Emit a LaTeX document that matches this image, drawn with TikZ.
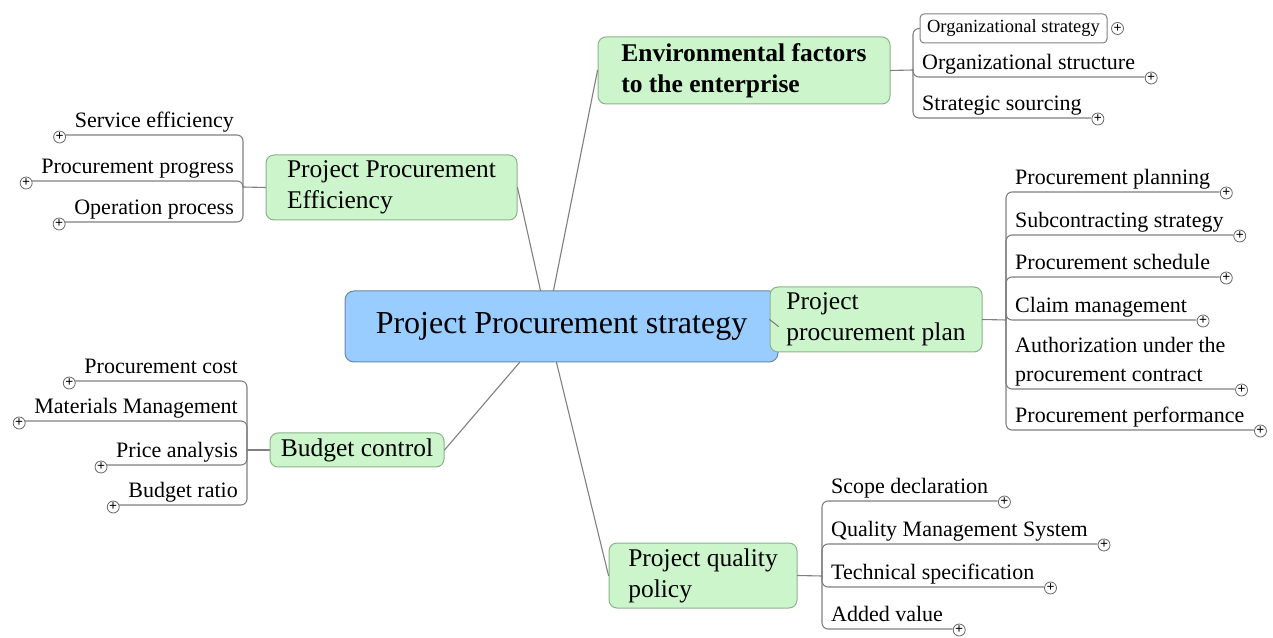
\documentclass[tikz,border=0pt]{standalone}
\usepackage{fontspec}
\setmainfont{Liberation Serif}
\usetikzlibrary{calc}
\definecolor{mintfill}{RGB}{204,245,204}
\definecolor{mintline}{RGB}{140,178,140}
\definecolor{skyfill}{RGB}{153,204,255}
\definecolor{skyline}{RGB}{105,135,170}
\definecolor{linkgray}{RGB}{128,128,128}
\begin{document}
\begin{tikzpicture}[x=1pt,y=1pt, line join=round, line cap=round,
	root/.style={draw=skyline, fill=skyfill, rounded corners=9pt, line width=1pt, minimum width=433pt, minimum height=71pt, font=\fontsize{32}{38}\selectfont},
	topic/.style={draw=mintline, fill=mintfill, rounded corners=8pt, line width=1pt, align=left, font=\fontsize{25.5}{31}\selectfont},
	leafR/.style={anchor=south west, inner xsep=9pt, inner ysep=2pt, text depth=5pt, align=left, font=\fontsize{22}{29}\selectfont},
	leafL/.style={anchor=south east, inner xsep=9pt, inner ysep=2pt, text depth=5pt, align=right, font=\fontsize{22}{29}\selectfont},
	osbox/.style={draw=linkgray, rounded corners=4pt, line width=1pt, minimum width=187pt, minimum height=29pt, inner sep=2pt, font=\fontsize{18.5}{22}\selectfont},
	plus/.style={circle, draw=linkgray!80!black, fill=white, line width=0.8pt, minimum size=12pt, inner sep=0pt, font=\fontsize{14}{14}\selectfont\bfseries},
	link/.style={draw=linkgray, line width=1.1pt},
	fork/.style={link, rounded corners=6pt}]
	\useasboundingbox (0,0) rectangle (1273,637);
	% centre and main topics
	\node[root] (cen) at (561.5,310.5) {Project Procurement strategy};
	\node[topic, minimum width=292pt, minimum height=67pt, font=\fontsize{25.5}{31}\selectfont\bfseries] (env) at (744,566.5) {Environmental factors\\to the enterprise};
	\node[topic, minimum width=251pt, minimum height=65pt] (eff) at (391.5,449.5) {Project Procurement\\Efficiency};
	\node[topic, minimum width=212pt, minimum height=65pt] (plan) at (876,317.5) {Project\\procurement plan};
	\node[topic, minimum width=174pt, minimum height=34pt] (bud) at (357,187) {Budget control};
	\node[topic, minimum width=188pt, minimum height=65pt] (qua) at (703,61.5) {Project quality\\policy};
	\draw[link] ($(cen.north)+(-8,0)$) -- (env.west);
	\draw[link] ($(cen.north)+(-21,0)$) -- (eff.east);
	\draw[link] (cen.east) -- (plan.west);
	\draw[link] ($(cen.south)+(-42,0)$) -- (bud.east);
	\draw[link] ($(cen.south)+(-5,0)$) -- (qua.west);
	% junctions
	\coordinate (jenv) at (913,567);
	\coordinate (jeff) at (243,450);
	\coordinate (jplan) at (1006,317);
	\coordinate (jbud) at (247,187);
	\coordinate (jqua) at (822,61);
	\draw[link] (env.east) -- (jenv);
	\draw[link] (eff.west) -- (jeff);
	\draw[link] (plan.east) -- (jplan);
	\draw[link] (bud.west) -- (jbud);
	\draw[link] (qua.east) -- (jqua);
	% environmental factors
	\node[osbox] (os) at (1013.5,608.5) {Organizational strategy};
	\draw[fork] (jenv) |- (os.west);
	\node[plus] (osp) at ($(os.east)+(10,0)$) {+};
	\foreach \txt/\yy [count=\i] in {Organizational structure/560, Strategic sourcing/519}{
		\node[leafR] (en\i) at (913,\yy) {\txt};
		\draw[fork] (jenv) |- (en\i.south east);
		\node[plus] (enp\i) at ($(en\i.south east)+(7,-1)$) {+};
	}
	% efficiency
	\foreach \txt/\yy [count=\i] in {Service efficiency/502, Procurement progress/456, Operation process/415}{
		\node[leafL] (ef\i) at (243,\yy) {\txt};
		\draw[fork] (jeff) |- (ef\i.south west);
		\node[plus] (efp\i) at ($(ef\i.south west)+(-6,-2)$) {+};
	}
	% procurement plan
	\foreach \txt/\yy [count=\i] in {Procurement planning/445, Subcontracting strategy/402, Procurement schedule/360, Claim management/317, {Authorization under the\\procurement contract}/248, Procurement performance/207}{
		\node[leafR] (pl\i) at (1006,\yy) {\txt};
		\draw[fork] (jplan) |- (pl\i.south east);
		\node[plus] (plp\i) at ($(pl\i.south east)+(7,-1)$) {+};
	}
	% budget
	\foreach \txt/\yy [count=\i] in {Procurement cost/256, Materials Management/216, Price analysis/172, Budget ratio/132}{
		\node[leafL] (bu\i) at (247,\yy) {\txt};
		\draw[fork] (jbud) |- (bu\i.south west);
		\node[plus] (bup\i) at ($(bu\i.south west)+(-6,-2)$) {+};
	}
	% quality
	\foreach \txt/\yy [count=\i] in {Scope declaration/136, Quality Management System/93, Technical specification/50, Added value/8}{
		\node[leafR] (qu\i) at (822,\yy) {\txt};
		\draw[fork] (jqua) |- (qu\i.south east);
		\node[plus] (qup\i) at ($(qu\i.south east)+(7,-1)$) {+};
	}
\end{tikzpicture}
\end{document}
